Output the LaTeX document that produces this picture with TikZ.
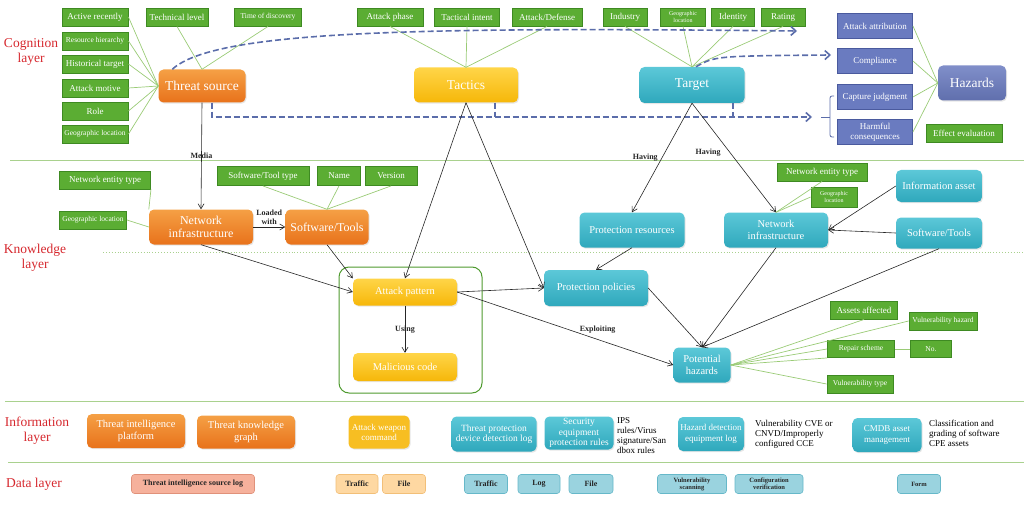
\documentclass[tikz,border=0pt]{standalone}
\usepackage{fontspec}
\setmainfont{Liberation Serif}
\usetikzlibrary{arrows.meta,calc,shadows}

\definecolor{AttrFill}{HTML}{5BAD33}
\definecolor{AttrEdge}{HTML}{3E8A22}
\definecolor{AttrLine}{HTML}{9ACB76}
\definecolor{LayerLine}{HTML}{A9D18E}
\definecolor{LayerRed}{HTML}{D6282E}
\definecolor{DashBlue}{HTML}{5B6DAA}
\definecolor{OrangeA}{HTML}{F5A045}
\definecolor{OrangeB}{HTML}{E8721B}
\definecolor{YellowA}{HTML}{FFD548}
\definecolor{YellowB}{HTML}{F6B709}
\definecolor{TealA}{HTML}{5CC8D8}
\definecolor{TealB}{HTML}{2FA8BC}
\definecolor{PurpleFill}{HTML}{6A7BC0}
\definecolor{PurpleEdge}{HTML}{4A5A9E}
\definecolor{GroupEdge}{HTML}{4E9A2E}
\definecolor{SalmonFill}{HTML}{F6B19C}
\definecolor{SalmonEdge}{HTML}{E0917A}
\definecolor{PeachFill}{HTML}{FED8A2}
\definecolor{PeachEdge}{HTML}{F2BF78}
\definecolor{SkyFill}{HTML}{9AD3DF}
\definecolor{SkyEdge}{HTML}{66B8C9}

\newcommand{\AttrH}{18}
\newcommand{\MainH}{35}

\tikzset{
    sz/.style 2 args={minimum width=#1pt, minimum height=#2pt},
    attr/.style={draw=AttrEdge, fill=AttrFill, text=white, line width=0.9pt, inner sep=0pt, align=center, font=\fontsize{9}{10}\selectfont},
    ftiny/.style={font=\fontsize{7.5}{8}\selectfont},
    fmicro/.style={font=\fontsize{6}{6.5}\selectfont},
    card/.style={rounded corners=5pt, inner sep=1pt, align=center, text=white, drop shadow={opacity=0.2, shadow xshift=1pt, shadow yshift=-1.2pt}},
    orangecard/.style={card, top color=OrangeA, bottom color=OrangeB},
    yellowcard/.style={card, top color=YellowA, bottom color=YellowB},
    tealcard/.style={card, top color=TealA, bottom color=TealB},
    purplebox/.style={draw=PurpleEdge, fill=PurpleFill, text=white, line width=0.9pt, inner sep=0pt, align=center, font=\fontsize{9}{10}\selectfont},
    datacell/.style={rounded corners=3pt, line width=0.6pt, inner sep=0pt, align=center, text=black!85, font=\bfseries\fontsize{8}{9}\selectfont},
    salmoncell/.style={datacell, draw=SalmonEdge, fill=SalmonFill},
    peachcell/.style={datacell, draw=PeachEdge, fill=PeachFill},
    skycell/.style={datacell, draw=SkyEdge, fill=SkyFill},
    arr/.style={-{Straight Barb[length=5pt,width=6pt]}, line width=0.6pt, black!85},
    attrlink/.style={AttrLine, line width=0.7pt},
    dashlink/.style={DashBlue, line width=1.6pt, dash pattern=on 6pt off 3pt, -{Straight Barb[length=5pt,width=9pt]}},
    bracket/.style={DashBlue, line width=0.8pt, rounded corners=2pt},
    sepline/.style={LayerLine, line width=0.9pt},
    layername/.style={LayerRed, align=center, font=\fontsize{13.5}{15}\selectfont},
    lbl/.style={font=\bfseries\fontsize{8}{9}\selectfont, inner sep=1pt, align=center},
    note/.style={anchor=west, align=left, inner sep=0pt, font=\fontsize{9}{10}\selectfont},
}

\begin{document}
\begin{tikzpicture}[x=1pt,y=-1pt]
        \useasboundingbox (0,0) rectangle (1024,505);

        \draw[sepline] (10,160) -- (1024,160);% Cognition / Knowledge
        \draw[sepline, dotted] (103,252) -- (1024,252);
        \draw[sepline] (5,401) -- (1024,401);% Knowledge / Information
        \draw[sepline] (8,462) -- (1024,462);% Information / Data

        \node[layername] (L1) at (31,52) {Cognition\\layer};
        \node[layername] (L2) at (35,258) {Knowledge\\layer};
        \node[layername] (L3) at (37,431) {Information\\layer};
        \node[layername] (L4) at (34,484) {Data layer};

        % Cognition layer
        \node[attr, sz={66}{\AttrH}] (AR) at (95,17) {Active recently};
        \node[attr, sz={66}{\AttrH}, ftiny] (RH) at (95,41) {Resource hierarchy};
        \node[attr, sz={66}{\AttrH}] (HT) at (95,64) {Historical target};
        \node[attr, sz={66}{\AttrH}] (AM) at (95,88) {Attack motive};
        \node[attr, sz={66}{\AttrH}] (RO) at (95,111) {Role};
        \node[attr, sz={66}{\AttrH}, ftiny] (GL1) at (95,134) {Geographic location};
        \node[attr, sz={62}{\AttrH}] (TL) at (177,17) {Technical level};
        \node[attr, sz={67}{\AttrH}, ftiny] (TD) at (268,17) {Time of discovery};
        \node[orangecard, sz={87}{33}, font=\fontsize{13.5}{15}\selectfont] (TS) at (202,86) {Threat source};

        \node[attr, sz={66}{\AttrH}] (AP) at (390,17) {Attack phase};
        \node[attr, sz={65}{\AttrH}] (TI) at (467,17) {Tactical intent};
        \node[attr, sz={70}{\AttrH}] (AD) at (547,17) {Attack/Defense};
        \node[yellowcard, sz={104}{\MainH}, font=\fontsize{13.5}{15}\selectfont] (TA) at (466,85) {Tactics};

        \node[attr, sz={44}{\AttrH}] (IN) at (625,17) {Industry};
        \node[attr, sz={45}{\AttrH}, fmicro] (GL2) at (683,17) {Geographic\\location};
        \node[attr, sz={43}{\AttrH}] (ID) at (733,17) {Identity};
        \node[attr, sz={44}{\AttrH}] (RA) at (783,17) {Rating};
        \node[tealcard, sz={105}{36}, font=\fontsize{13.5}{15}\selectfont] (TG) at (692,85) {Target};

        \node[purplebox, sz={75}{25}] (AA) at (875,26) {Attack attribution};
        \node[purplebox, sz={75}{25}] (CO) at (875,61) {Compliance};
        \node[purplebox, sz={75}{25}] (CJ) at (875,97) {Capture judgment};
        \node[purplebox, sz={75}{25}] (HC) at (875,132) {Harmful\\consequences};
        \node[card, sz={68}{\MainH}, top color=PurpleFill!85!white, bottom color=PurpleFill!90!black, font=\fontsize{13.5}{15}\selectfont] (HZ) at (972,83) {Hazards};
        \node[attr, sz={76}{\AttrH}] (EE) at (964,133) {Effect evaluation};

        \foreach \n in {AR,RH,HT,AM,RO,GL1} \draw[attrlink] (\n.east) -- (TS.west);
        \foreach \n in {TL,TD} \draw[attrlink] (\n.south) -- (TS.north);
        \foreach \n in {AP,TI,AD} \draw[attrlink] (\n.south) -- (TA.north);
        \foreach \n in {IN,GL2,ID,RA} \draw[attrlink] (\n.south) -- (TG.north);
        \foreach \n in {AA,CO,CJ,HC} \draw[attrlink] (\n.east) -- (HZ.west);

        \coordinate (D1) at (797,31);
        \coordinate (D2) at (831,55);
        \coordinate (D3) at (812,117);
        \draw[dashlink] ($(TS.north west)+(14,0)$) .. controls (215,30) and (420,27) .. (D1);
        \draw[dashlink] ($(TG.north)+(4,0)$) .. controls (715,56) .. (D2);
        \draw[dashlink] ($(TS.south)+(10,0)$) |- (D3);
        \draw[dashlink, -] ($(TA.south)+(29,0)$) -- ++(0,14.5);
        \draw[dashlink, -] ($(TG.south)+(41,0)$) -- ++(0,14);
        \draw[bracket] (834,96) -- (830,96) -- (830,137) -- (834,137);
        \draw[bracket] (821,117) -- (830,117);

        % Knowledge layer, left
        \node[attr, sz={91}{\AttrH}] (NT1) at (105,180) {Network entity type};
        \node[attr, sz={67}{\AttrH}, ftiny] (GL3) at (93,220) {Geographic location};
        \node[orangecard, sz={104}{\MainH}, font=\fontsize{12}{13}\selectfont] (NI1) at (201,227) {Network\\infrastructure};
        \node[orangecard, sz={83}{\MainH}, font=\fontsize{12}{13}\selectfont] (ST1) at (327,227) {Software/Tools};
        \node[attr, sz={92}{19}] (STT) at (263,176) {Software/Tool type};
        \node[attr, sz={43}{19}] (NA) at (339,176) {Name};
        \node[attr, sz={52}{19}] (VE) at (391,176) {Version};

        \draw[rounded corners=10pt, GroupEdge, line width=1pt] (339,267) rectangle (482,393);
        \node[yellowcard, sz={104}{27}, font=\fontsize{10.5}{12}\selectfont] (APT) at (405,292) {Attack pattern};
        \node[yellowcard, sz={104}{28}, font=\fontsize{10.5}{12}\selectfont] (MC) at (405,367) {Malicious code};

        \draw[attrlink] (NT1.south east) -- (NI1.north west);
        \draw[attrlink] (GL3.east) -- (NI1.west);
        \foreach \n in {STT,NA,VE} \draw[attrlink] (\n.south) -- (ST1.north);

        % Knowledge layer, right
        \node[tealcard, sz={105}{\MainH}, font=\fontsize{10.5}{12}\selectfont] (PR) at (632,230) {Protection resources};
        \node[tealcard, sz={104}{\MainH}, font=\fontsize{10.5}{12}\selectfont] (NI2) at (776,230) {Network\\infrastructure};
        \node[tealcard, sz={86}{32}, font=\fontsize{10.5}{12}\selectfont] (IA) at (939,186) {Information asset};
        \node[tealcard, sz={86}{31}, font=\fontsize{10.5}{12}\selectfont] (ST2) at (939,233) {Software/Tools};
        \node[attr, sz={90}{\AttrH}] (NT2) at (822,172) {Network entity type};
        \node[attr, sz={46}{20}, fmicro] (GL4) at (834,197) {Geographic\\location};
        \node[tealcard, sz={104}{36}, font=\fontsize{10.5}{12}\selectfont] (PP) at (596,288) {Protection policies};
        \node[tealcard, sz={57}{\MainH}, font=\fontsize{10.5}{12}\selectfont] (PH) at (702,365) {Potential\\hazards};
        \node[attr, sz={67}{\AttrH}] (AF) at (864,310) {Assets affected};
        \node[attr, sz={68}{\AttrH}, ftiny] (VH) at (943,321) {Vulnerability hazard};
        \node[attr, sz={67}{17}, ftiny] (RS) at (861,349) {Repair scheme};
        \node[attr, sz={41}{17}, ftiny] (NO) at (931,349) {No.};
        \node[attr, sz={66}{\AttrH}, ftiny] (VT) at (860,384) {Vulnerability type};

        \draw[attrlink] (NT2.south) -- (NI2.north);
        \draw[attrlink] (GL4.west) -- (NI2.north);
        \draw[attrlink] (PH.east) -- (AF.south);
        \draw[attrlink] (PH.east) -- (VH.west);
        \draw[attrlink] (PH.east) -- (RS.west);
        \draw[attrlink] (PH.east) -- (RS.south west);
        \draw[attrlink] (PH.east) -- (VT.west);
        \draw[attrlink] (RS.east) -- (NO.west);

        % relations
        \draw[arr] (TS.south) -- node[lbl] {Media} (NI1.north);
        \draw[arr] (NI1.east) -- node[lbl, above=1pt] {Loaded\\with} (ST1.west);
        \draw[arr] (NI1.south) -- (APT.west);
        \draw[arr] (ST1.south) -- (APT.north west);
        \draw[arr] (TA.south) -- (APT.north);
        \draw[arr] (TA.south) -- (PP.west);
        \draw[arr] (APT.south) -- node[lbl] {Using} (MC.north);
        \draw[arr] (APT.east) -- (PP.west);
        \draw[arr] (APT.east) -- node[lbl, pos=.65, above=5pt] {Exploiting} (PH.west);
        \draw[arr] (TG.south) -- node[lbl, pos=.5, left=3pt] {Having} (PR.north);
        \draw[arr] (TG.south) -- node[lbl, pos=.45, left=8pt] {Having} (NI2.north);
        \draw[arr] (IA.west) -- (NI2.east);
        \draw[arr] (ST2.west) -- (NI2.east);
        \draw[arr] (PR.south) -- (PP.north);
        \draw[arr] (PP.east) -- (PH.north);
        \draw[arr] (NI2.south) -- (PH.north);
        \draw[arr] (ST2.south) -- (PH.north);

        % Information layer
        \node[orangecard, sz={98}{34}, font=\fontsize{10.5}{11.5}\selectfont] (TIP) at (136,431) {Threat intelligence\\platform};
        \node[orangecard, sz={98}{33}, font=\fontsize{10.5}{11.5}\selectfont] (TKG) at (246,432) {Threat knowledge\\graph};
        \node[card, sz={61}{33}, fill=YellowB!90!white, font=\fontsize{9}{10}\selectfont] (AWC) at (379,432) {Attack weapon\\command};
        \node[tealcard, sz={85}{35}, font=\fontsize{9.5}{10.5}\selectfont] (TPD) at (494,434) {Threat protection\\device detection log};
        \node[tealcard, sz={69}{33}, font=\fontsize{9.5}{10.5}\selectfont] (SEP) at (579,433) {Security\\equipment\\protection rules};
        \node[note] (N1) at (617,436) {IPS\\rules/Virus\\signature/San\\dbox rules};
        \node[tealcard, sz={66}{34}, font=\fontsize{9}{10.5}\selectfont] (HDE) at (711,434) {Hazard detection\\equipment log};
        \node[note] (N2) at (755,434) {Vulnerability CVE or\\CNVD/Improperly\\configured CCE};
        \node[tealcard, sz={69}{34}, font=\fontsize{9}{10.5}\selectfont] (CM) at (887,435) {CMDB asset\\management};
        \node[note] (N3) at (929,433) {Classification and\\grading of software\\CPE assets};

        % Data layer
        \node[salmoncell, sz={123}{19}] (DL) at (193,484) {Threat intelligence source log};
        \node[peachcell, sz={42}{19}] (TF1) at (357,484) {Traffic};
        \node[peachcell, sz={43}{19}] (FI1) at (404,484) {File};
        \node[skycell, sz={43}{19}] (TF2) at (486,484) {Traffic};
        \node[skycell, sz={42}{19}] (LG) at (539,484) {Log};
        \node[skycell, sz={44}{19}] (FI2) at (591,484) {File};
        \node[skycell, sz={69}{19}, font=\bfseries\fontsize{6.5}{7}\selectfont] (VS) at (692,484) {Vulnerability\\scanning};
        \node[skycell, sz={68}{19}, font=\bfseries\fontsize{6.5}{7}\selectfont] (CV) at (769,484) {Configuration\\verification};
        \node[skycell, sz={43}{19}, font=\bfseries\fontsize{6.5}{7}\selectfont] (FO) at (919,484) {Form};
\end{tikzpicture}
\end{document}
